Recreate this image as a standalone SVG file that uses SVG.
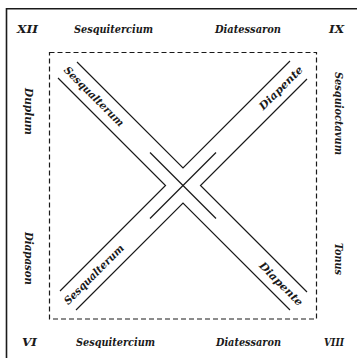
<svg xmlns="http://www.w3.org/2000/svg" width="357" height="358" viewBox="0 0 357 358">
<style>
.t{font-family:"DejaVu Serif","Liberation Serif",serif;font-weight:bold;font-style:italic;font-size:10.5px;fill:#1a1a1a}
.m{text-anchor:middle}
.ln{fill:none;stroke:#1a1a1a;stroke-width:1.2}
.frame{fill:none;stroke:#1a1a1a;stroke-width:1.6}
.dash{fill:none;stroke:#1a1a1a;stroke-width:1.2;stroke-dasharray:5 3}
</style>
<rect width="357" height="358" fill="#fff"/>
<g id="frame">
<polyline class="frame" points="6.5,358 6.5,8.8 357,8.8"/>
<rect class="dash" x="49.5" y="52.5" width="267" height="266.5"/>
</g>
<g id="connectors">
<polyline class="ln" points="77,62 183,168 290,61"/>
<polyline class="ln" points="58,78 165.5,185.5 60,291"/>
<polyline class="ln" points="307,79 200.5,185.5 307,292"/>
<polyline class="ln" points="76,310 183,203 290,310"/>
<line class="ln" x1="150" y1="152.5" x2="216" y2="218.5"/>
<line class="ln" x1="216" y1="152.5" x2="150" y2="218.5"/>
</g>
<g id="corners">
<text class="t" x="17" y="33" textLength="21" lengthAdjust="spacingAndGlyphs">XII</text>
<text class="t" x="329" y="33" textLength="15" lengthAdjust="spacingAndGlyphs">IX</text>
<text class="t" x="22" y="346" textLength="15" lengthAdjust="spacingAndGlyphs">VI</text>
<text class="t" x="324" y="346" textLength="20" lengthAdjust="spacingAndGlyphs">VIII</text>
</g>
<g id="top">
<text class="t" x="74" y="33" textLength="79" lengthAdjust="spacingAndGlyphs">Sesquitercium</text>
<text class="t" x="215" y="33" textLength="66" lengthAdjust="spacingAndGlyphs">Diatessaron</text>
</g>
<g id="bottom">
<text class="t" x="76" y="346" textLength="79" lengthAdjust="spacingAndGlyphs">Sesquitercium</text>
<text class="t" x="216" y="346" textLength="65" lengthAdjust="spacingAndGlyphs">Diatessaron</text>
</g>
<g id="left">
<text class="t" transform="translate(24.5,88) rotate(90)" textLength="47" lengthAdjust="spacingAndGlyphs">Duplum</text>
<text class="t" transform="translate(24.5,232) rotate(90)" textLength="53" lengthAdjust="spacingAndGlyphs">Diapason</text>
</g>
<g id="right">
<text class="t" transform="translate(335,72) rotate(90)" textLength="83" lengthAdjust="spacingAndGlyphs">Sesquioctavum</text>
<text class="t" transform="translate(335,243) rotate(90)" textLength="32" lengthAdjust="spacingAndGlyphs">Tonus</text>
</g>
<g id="diagonals">
<text class="t m" transform="translate(94,96.5) rotate(45)" y="3.5" textLength="80" lengthAdjust="spacingAndGlyphs">Sesqualterum</text>
<text class="t m" transform="translate(94,274.5) rotate(-45)" y="3.5" textLength="80" lengthAdjust="spacingAndGlyphs">Sesqualterum</text>
<text class="t m" transform="translate(281,88) rotate(-45)" y="3.5" textLength="57" lengthAdjust="spacingAndGlyphs">Diapente</text>
<text class="t m" transform="translate(281,284) rotate(45)" y="3.5" textLength="57" lengthAdjust="spacingAndGlyphs">Diapente</text>
</g>
</svg>
